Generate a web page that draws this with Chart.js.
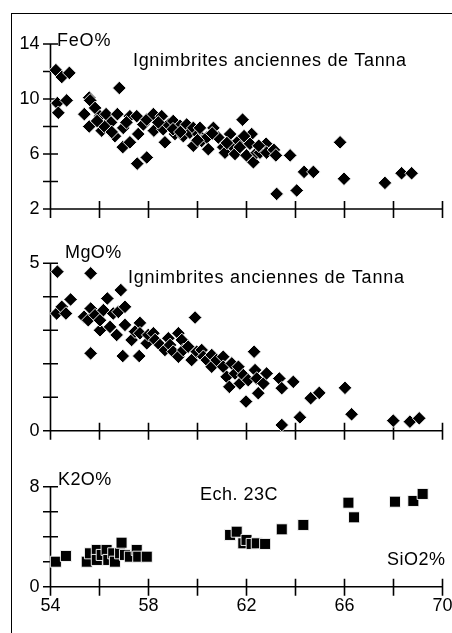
<!DOCTYPE html>
<html><head><meta charset="utf-8">
<script src="https://cdn.jsdelivr.net/npm/chart.js@4.4.1/dist/chart.umd.min.js"></script>
<style>
html,body{margin:0;padding:0;background:#fff;}
#wrap{position:relative;width:452px;height:633px;overflow:hidden;background:#fff;}
#frame{position:absolute;left:11px;top:13px;width:470px;height:650px;border-top:1.5px solid #000;border-left:1.5px solid #000;}
canvas{position:absolute;left:0;}
</style></head><body>
<div id="wrap"><div id="frame"></div>
<canvas id="c1" width="452" height="225" style="top:0px"></canvas>
<canvas id="c2" width="452" height="220" style="top:225px"></canvas>
<canvas id="c3" width="452" height="188" style="top:445px"></canvas>
</div>
<script>
// ---- data ----
const xTickLabels = [54, 58, 62, 66, 70];
const feoTickLabels = [14, 10, 6, 2];
const mgoTickLabels = [5, 0];
const k2oTickLabels = [8, 0];

const feoSiO2 = [54.22,54.46,54.77,54.28,54.32,54.66,55.58,55.62,55.38,55.58,55.82,56.02,56.09,56.27,56.47,56.63,56.73,56.81,56.97,56.95,57.24,57.24,57.54,57.93,57.52,57.58,57.79,57.93,58.2,58.22,58.54,58.6,58.67,58.81,59.01,59.08,59.29,59.42,59.56,59.69,59.83,59.83,60.03,60.1,60.17,60.38,60.44,60.65,60.85,61.05,61.12,61.33,61.4,61.53,61.67,61.73,61.84,62.0,62.21,62.14,62.28,62.42,62.55,62.8,62.82,63.12,63.2,63.23,63.78,64.05,64.35,64.73,65.82,65.98,67.65,68.33,68.74,56.2,55.9,56.5,57.1,58.4,59.0,59.3,60.0,60.6,61.2,61.9,62.5];
const feoValues = [12.1,11.6,11.9,9.7,9.0,9.9,10.1,9.9,8.9,8.0,9.35,8.75,7.7,8.9,8.3,7.3,8.9,10.8,7.9,6.5,8.75,6.85,5.3,5.75,8.75,7.45,8.15,8.5,8.9,7.7,8.75,7.8,6.85,8.15,8.4,7.45,8.05,7.3,8.15,7.55,7.9,6.6,7.45,7.9,6.95,7.2,6.35,7.9,7.2,6.5,6.1,7.45,6.6,6.0,6.95,6.5,8.5,5.9,7.45,6.75,5.4,6.1,6.1,6.75,6.1,6.3,5.9,3.1,5.9,3.35,4.7,4.7,6.85,4.2,3.9,4.6,4.6,8.0,8.4,7.6,8.3,8.3,7.8,7.6,7.0,7.5,6.8,7.3,6.6];

const mgoSiO2 = [54.28,54.25,54.46,54.63,54.82,55.64,55.64,55.64,55.37,55.54,55.82,56.02,56.02,56.16,56.32,56.43,56.56,56.7,56.87,56.77,57.04,57.04,56.95,57.31,57.45,57.65,57.65,57.62,57.93,57.99,58.2,58.27,58.47,58.67,58.81,58.88,59.01,59.22,59.22,59.36,59.42,59.62,59.76,59.9,59.97,60.17,60.24,60.38,60.58,60.58,60.78,61.05,61.05,61.19,61.3,61.4,61.53,61.67,61.73,61.87,61.98,62.07,62.31,62.35,62.42,62.48,62.69,62.82,63.34,63.44,63.44,63.91,64.18,64.62,64.97,66.02,66.29,67.99,68.67,69.05];
const mgoValues = [4.75,3.5,3.7,3.5,3.92,4.7,3.65,2.31,3.4,3.3,3.45,3.0,3.3,3.6,3.95,3.1,3.5,2.86,4.2,3.55,3.7,3.16,2.23,2.71,2.96,3.22,2.91,2.23,2.61,2.86,2.91,2.71,2.56,2.41,2.76,2.56,2.36,2.91,2.21,2.71,2.41,2.51,2.11,3.38,2.36,2.41,2.21,2.11,2.26,1.91,2.11,2.21,1.91,1.61,1.31,2.01,1.71,1.91,1.41,1.66,0.87,1.51,2.36,1.81,1.56,1.12,1.41,1.71,1.56,1.27,0.17,1.46,0.4,0.97,1.13,1.28,0.49,0.3,0.27,0.37];

const k2oSiO2 = [54.22,54.63,55.48,55.61,55.89,55.89,56.09,56.29,56.36,56.56,56.63,56.84,56.9,57.04,57.24,57.52,57.58,57.93,61.33,61.6,61.87,62.0,62.21,62.42,62.76,63.44,64.32,66.16,66.39,68.06,68.81,69.19];
const k2oValues = [2.0,2.46,2.0,2.67,2.94,2.14,2.54,2.94,2.14,2.67,2.0,2.67,3.52,2.54,2.4,2.94,2.4,2.4,4.14,4.4,3.47,3.74,3.42,3.47,3.42,4.59,4.94,6.72,5.55,6.8,6.86,7.42];

// ---- helpers ----
const FONT = '"Liberation Sans", Arial, Helvetica, sans-serif';
function pts(xs, ys){ return xs.map((x,i)=>({x:x, y:ys[i]})); }

const crossAxes = {
  id: 'crossAxes',
  beforeDatasetsDraw(chart, args, o) {
    const ctx = chart.ctx, xs = chart.scales.x, ys = chart.scales.y;
    const a = chart.chartArea;
    ctx.save();
    ctx.strokeStyle = '#000';
    ctx.lineWidth = 1.6;
    ctx.beginPath();
    ctx.moveTo(a.left - 7, a.bottom); ctx.lineTo(a.right, a.bottom);
    ctx.moveTo(a.left, a.top); ctx.lineTo(a.left, a.bottom);
    xs.ticks.forEach(t => {
      const px = xs.getPixelForValue(t.value);
      ctx.moveTo(px, a.bottom - 8); ctx.lineTo(px, a.bottom + 9);
    });
    ys.ticks.forEach(t => {
      const py = ys.getPixelForValue(t.value);
      ctx.moveTo(a.left - 7.5, py); ctx.lineTo(a.left + 7.5, py);
    });
    ctx.stroke();
    ctx.restore();
  }
};

const notes = {
  id: 'notes',
  afterDraw(chart, args, o) {
    const ctx = chart.ctx;
    ctx.save();
    ctx.fillStyle = '#000';
    ctx.textBaseline = 'alphabetic';
    ctx.textAlign = 'left';
    (o.items || []).forEach(it => {
      ctx.font = (it.size || 18) + 'px ' + FONT;
      if ('letterSpacing' in ctx) ctx.letterSpacing = (it.ls || 0) + 'px';
      ctx.fillText(it.text, it.x, it.y);
    });
    ctx.restore();
  }
};

function makePanel(id, canvasTop, canvasH, areaTop, areaBottom, data, yMin, yMax, yStep, yLabels, showX, style, radius, items) {
  return new Chart(document.getElementById(id), {
    type: 'scatter',
    data: { datasets: [{
      data: data,
      pointStyle: style,
      pointRadius: radius,
      pointHoverRadius: radius,
      backgroundColor: '#000',
      borderColor: '#fff',
      borderWidth: 0.9,
      clip: false
    }]},
    options: {
      responsive: false,
      animation: false,
      events: [],
      layout: { padding: { top: areaTop - canvasTop, right: 9.5, left: 0, bottom: 0 } },
      plugins: { legend: { display: false }, tooltip: { enabled: false }, notes: { items: items } },
      scales: {
        x: {
          type: 'linear', min: 54, max: 70,
          grid: { display: false, drawTicks: false },
          border: { display: false },
          ticks: { display: showX, stepSize: 2, color: '#000', padding: 9, maxRotation: 0, autoSkip: false,
                   font: { family: FONT, size: 18 },
                   callback: v => xTickLabels.includes(v) ? String(v) : '' },
          afterFit: s => { s.height = canvasTop + canvasH - areaBottom; s.paddingLeft = 0; s.paddingRight = 0; }
        },
        y: {
          type: 'linear', min: yMin, max: yMax,
          grid: { display: false, drawTicks: false },
          border: { display: false },
          ticks: { stepSize: yStep, color: '#000', padding: 11, autoSkip: false,
                   font: { family: FONT, size: 18 },
                   callback: v => yLabels.includes(v) ? String(v) : '' },
          afterFit: s => { s.width = 50.5; s.paddingTop = 0; s.paddingBottom = 0; }
        }
      }
    },
    plugins: [crossAxes, notes]
  });
}

makePanel('c1', 0, 225, 44, 209, pts(feoSiO2, feoValues), 2, 14, 2, feoTickLabels, false, 'rectRot', 6.8, [
  { text: 'FeO%', x: 57, y: 45.5, size: 18, ls: 0.8 },
  { text: 'Ignimbrites anciennes de Tanna', x: 133, y: 65.5, size: 18, ls: 0.65 }
]);
makePanel('c2', 225, 220, 263.3, 430.7, pts(mgoSiO2, mgoValues), 0, 5, 1, mgoTickLabels, false, 'rectRot', 6.8, [
  { text: 'MgO%', x: 65, y: 258 - 225, size: 18, ls: 0.4 },
  { text: 'Ignimbrites anciennes de Tanna', x: 128, y: 283 - 225, size: 18, ls: 0.75 }
]);
makePanel('c3', 445, 188, 486.7, 586.7, pts(k2oSiO2, k2oValues), 0, 8, 2, k2oTickLabels, true, 'rect', 7.8, [
  { text: 'K2O%', x: 58, y: 485 - 445, size: 18, ls: 0.4 },
  { text: 'Ech. 23C', x: 200, y: 500 - 445, size: 18, ls: 0.5 },
  { text: 'SiO2%', x: 387, y: 565 - 445, size: 18, ls: 0.5 }
]);
</script>
</body></html>
